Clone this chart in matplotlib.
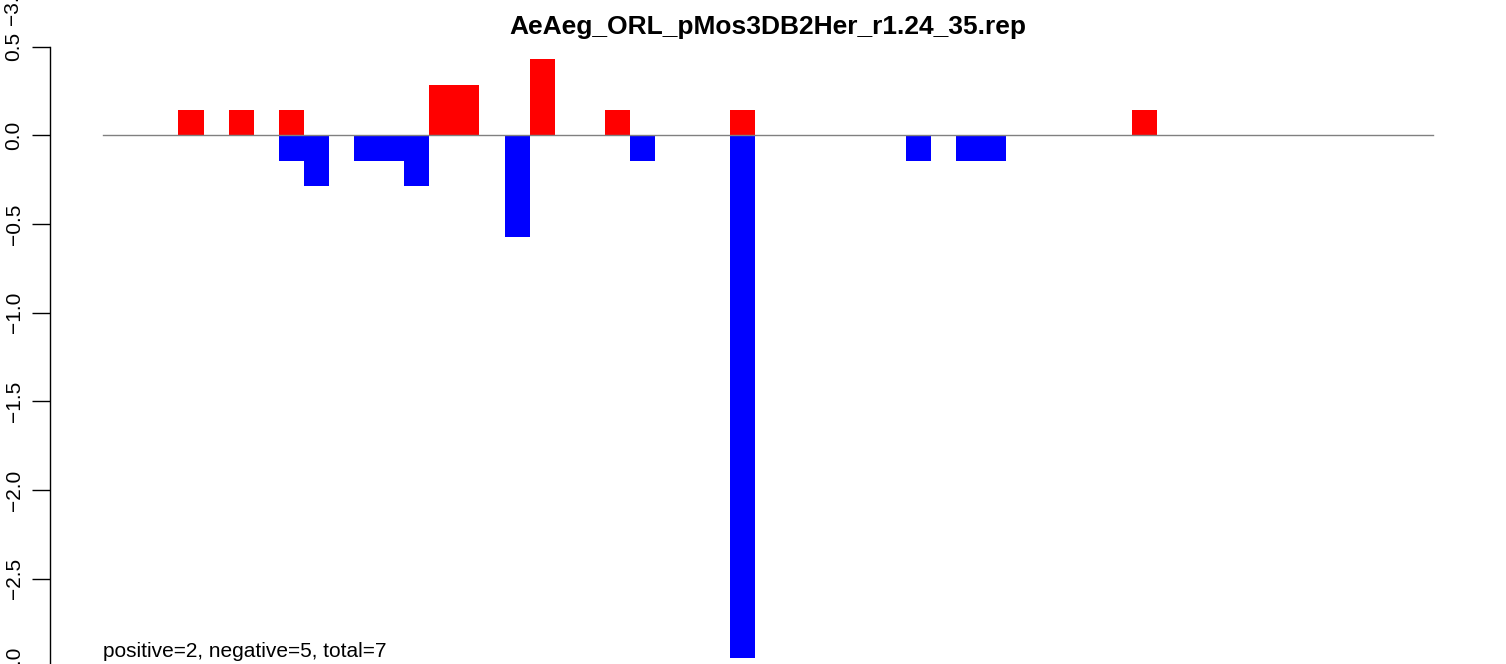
import matplotlib
matplotlib.use("Agg")
import matplotlib.pyplot as plt
import numpy as np

plt.rcParams['font.family'] = ['Liberation Sans', 'DejaVu Sans']

title = "AeAeg_ORL_pMos3DB2Her_r1.24_35.rep"
note = "positive=2, negative=5, total=7"
n_bins = 53

# bin index -> value
pos_idx = [3, 5, 7, 13, 14, 17, 20, 25, 41]
pos_val = [0.143, 0.143, 0.143, 0.286, 0.286, 0.429, 0.143, 0.143, 0.143]
neg_idx = [7, 8, 10, 11, 12, 16, 21, 25, 32, 34, 35]
neg_val = [-0.143, -0.286, -0.143, -0.143, -0.286, -0.571, -0.143, -2.95,
           -0.143, -0.143, -0.143]
yticks = [0.5, 0.0, -0.5, -1.0, -1.5, -2.0, -2.5, -3.0]

W, H = 1506, 664
fig = plt.figure(figsize=(W / 100, H / 100), dpi=100)
ax = fig.add_axes([50 / W, (H - 692) / H, 1436 / W, 670 / H])

ax.bar(pos_idx, pos_val, width=1, align='edge', color='red', linewidth=0)
ax.bar(neg_idx, neg_val, width=1, align='edge', color='blue', linewidth=0)
ax.plot([0, n_bins], [0, 0], color='#808080', linewidth=1)

pad = n_bins * 0.04
ax.set_xlim(-pad, n_bins + pad)
ax.set_ylim(-3.14, 0.64)

for s in ['top', 'right', 'bottom']:
    ax.spines[s].set_visible(False)
ax.spines['left'].set_bounds(-3.0, 0.5)
ax.spines['left'].set_linewidth(1)
ax.set_xticks([])
ax.set_yticks(yticks)
ax.set_yticklabels([f"{v:.1f}".replace('-', '\u2212') for v in yticks],
                   rotation=90, va='center', fontsize=15)
ax.tick_params(axis='y', length=13, width=1, pad=6)

fig.text(768 / W, 1 - 27 / H, title, ha='center', va='center',
         fontsize=19, fontweight='bold')
ax.text(0, -2.91, note, ha='left', va='center', fontsize=15)

# label of the panel above, cut off at the top edge
fig.text(13 / W, 1 - 4 / H, "\u22123.0", rotation=90, ha='center', va='center',
         fontsize=15)

fig.savefig("out.png", dpi=100)
